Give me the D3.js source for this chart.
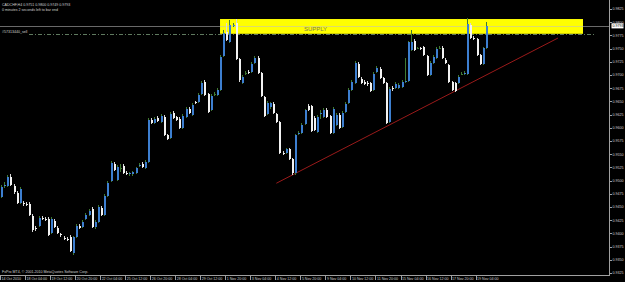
<!DOCTYPE html>
<html>
<head>
<meta charset="utf-8">
<title>CADCHF,H4</title>
<script src="https://cdnjs.cloudflare.com/ajax/libs/d3/7.8.5/d3.min.js"></script>
<style>
	body { margin: 0; background: #000; }
	svg { display: block; font-family: "Liberation Sans", Arial, sans-serif; }
</style>
</head>
<body>
<div id="chart"></div>
<script>
	var symbol = "CADCHF,H4";
	var timerText = "0 minutes 2 seconds left to bar end";
	var copyright = "FxPro MT4, \u00a9 2001-2010 MetaQuotes Software Corp.";

	//H4 bars, oldest first
	var opens = [
		.9469, .9490, .9490, .9507, .9490, .9476, .9458, .9457, .9456, .9456,
		.9433, .9410, .9414, .9429, .9427, .9427, .9401, .9423, .9410, .9398,
		.9392, .9390, .9393, .9363, .9393, .9414, .9412, .9427, .9435, .9446,
		.9412, .9422, .9448, .9435, .9471, .9499, .9531, .9501, .9524, .9528,
		.9514, .9513, .9512, .9514, .9528, .9531, .9524, .9535, .9615, .9609,
		.9619, .9611, .9620, .9586, .9581, .9628, .9620, .9617, .9600, .9620,
		.9636, .9624, .9649, .9649, .9664, .9687, .9664, .9634, .9664, .9662,
		.9672, .9736, .9781, .9762, .9794, .9798, .9730, .9685, .9704, .9706,
		.9706, .9723, .9732, .9704, .9658, .9626, .9639, .9645, .9626, .9611,
		.9552, .9552, .9560, .9541, .9514, .9588, .9590, .9607, .9641, .9641,
		.9619, .9592, .9626, .9620, .9634, .9622, .9590, .9605, .9624, .9601,
		.9630, .9647, .9672, .9685, .9721, .9692, .9687, .9685, .9685, .9672,
		.9706, .9711, .9694, .9685, .9611, .9675, .9675, .9675, .9677, .9687,
		.9689, .9747, .9764, .9751, .9751, .9753, .9736, .9700, .9723, .9732,
		.9751, .9751, .9728, .9719, .9687, .9685, .9685, .9702, .9702, .9702,
		.9795, .9770, .9768, .9738, .9721, .9751
	];
	var highs = [
		.9492, .9497, .9511, .9512, .9494, .9480, .9488, .9461, .9459, .9459,
		.9437, .9414, .9433, .9433, .9431, .9431, .9431, .9427, .9414, .9401,
		.9395, .9393, .9397, .9395, .9418, .9418, .9425, .9439, .9446, .9450,
		.9425, .9454, .9452, .9475, .9499, .9537, .9535, .9530, .9531, .9531,
		.9518, .9516, .9518, .9526, .9533, .9535, .9539, .9619, .9619, .9620,
		.9622, .9626, .9624, .9588, .9630, .9632, .9622, .9620, .9626, .9639,
		.9639, .9647, .9651, .9666, .9689, .9690, .9666, .9664, .9668, .9675,
		.9738, .9785, .9798, .9804, .9798, .9806, .9732, .9700, .9708, .9709,
		.9725, .9736, .9736, .9706, .9660, .9651, .9649, .9649, .9628, .9613,
		.9556, .9562, .9562, .9543, .9588, .9594, .9609, .9636, .9645, .9643,
		.9622, .9624, .9634, .9638, .9638, .9624, .9639, .9628, .9628, .9632,
		.9649, .9675, .9690, .9727, .9725, .9696, .9690, .9689, .9687, .9706,
		.9717, .9715, .9696, .9687, .9677, .9679, .9687, .9685, .9690, .9732,
		.9764, .9785, .9768, .9753, .9753, .9755, .9738, .9727, .9738, .9753,
		.9755, .9755, .9732, .9721, .9689, .9687, .9700, .9706, .9707, .9808,
		.9798, .9773, .9770, .9740, .9753, .9800
	];
	var lows = [
		.9467, .9486, .9488, .9490, .9475, .9456, .9456, .9452, .9452, .9433,
		.9403, .9405, .9412, .9425, .9423, .9395, .9399, .9410, .9399, .9393,
		.9387, .9385, .9365, .9359, .9391, .9408, .9410, .9425, .9433, .9410,
		.9408, .9420, .9433, .9433, .9469, .9497, .9518, .9499, .9516, .9512,
		.9510, .9509, .9509, .9512, .9526, .9524, .9522, .9533, .9607, .9607,
		.9611, .9609, .9584, .9577, .9579, .9617, .9613, .9598, .9598, .9619,
		.9626, .9622, .9645, .9647, .9662, .9660, .9628, .9632, .9660, .9660,
		.9670, .9734, .9764, .9760, .9791, .9728, .9687, .9683, .9700, .9702,
		.9704, .9721, .9702, .9658, .9620, .9624, .9636, .9626, .9609, .9550,
		.9548, .9550, .9539, .9511, .9511, .9586, .9588, .9605, .9632, .9592,
		.9594, .9590, .9617, .9619, .9619, .9588, .9588, .9603, .9598, .9600,
		.9628, .9645, .9670, .9683, .9694, .9683, .9681, .9679, .9668, .9670,
		.9704, .9692, .9683, .9607, .9609, .9670, .9673, .9673, .9675, .9685,
		.9687, .9745, .9745, .9749, .9747, .9736, .9698, .9698, .9721, .9730,
		.9749, .9730, .9721, .9685, .9670, .9668, .9683, .9700, .9700, .9700,
		.9768, .9766, .9736, .9719, .9719, .9749
	];
	var closes = [
		.9488, .9492, .9507, .9492, .9478, .9458, .9484, .9456, .9455, .9435,
		.9406, .9409, .9429, .9428, .9426, .9397, .9427, .9412, .9401, .9397,
		.9391, .9389, .9367, .9393, .9414, .9410, .9422, .9435, .9442, .9412,
		.9422, .9450, .9435, .9471, .9495, .9533, .9520, .9526, .9524, .9514,
		.9513, .9514, .9516, .9524, .9530, .9526, .9535, .9615, .9609, .9617,
		.9613, .9622, .9586, .9579, .9626, .9619, .9615, .9600, .9622, .9636,
		.9628, .9643, .9647, .9662, .9685, .9662, .9630, .9660, .9664, .9672,
		.9734, .9780, .9766, .9795, .9795, .9730, .9690, .9696, .9704, .9704,
		.9721, .9732, .9704, .9660, .9622, .9647, .9647, .9628, .9611, .9552,
		.9550, .9560, .9541, .9514, .9586, .9590, .9605, .9634, .9634, .9594,
		.9596, .9620, .9628, .9634, .9620, .9590, .9636, .9624, .9600, .9628,
		.9645, .9672, .9687, .9723, .9696, .9685, .9683, .9683, .9670, .9702,
		.9713, .9694, .9685, .9609, .9673, .9673, .9683, .9681, .9687, .9689,
		.9762, .9762, .9747, .9751, .9749, .9738, .9700, .9723, .9734, .9749,
		.9751, .9732, .9723, .9687, .9672, .9670, .9696, .9702, .9704, .9797,
		.9770, .9768, .9738, .9721, .9751, .9793
	];

	//one time label every 8 bars
	var timeLabels = ["14 Oct 2010", "18 Oct 04:00", "19 Oct 12:00", "20 Oct 20:00", "22 Oct 04:00",
		"25 Oct 12:00", "26 Oct 20:00", "28 Oct 04:00", "29 Oct 12:00", "1 Nov 20:00",
		"3 Nov 04:00", "4 Nov 12:00", "5 Nov 20:00", "9 Nov 04:00", "10 Nov 12:00",
		"11 Nov 20:00", "15 Nov 04:00", "16 Nov 12:00", "17 Nov 20:00", "19 Nov 04:00"];
	var labelEvery = 8;
	var priceTicks = [0.9325, 0.9350, 0.9375, 0.9400, 0.9425, 0.9450, 0.9475, 0.9500, 0.9525, 0.9550,
		0.9575, 0.9600, 0.9625, 0.9650, 0.9675, 0.9700, 0.9725, 0.9750, 0.9775, 0.9800, 0.9825];

	//objects drawn on the chart (bar index, price)
	var supplyFrom = 70, supplyTo = 186, supplyTop = 0.9806, supplyBottom = 0.9778;
	var trendStart = [88, 0.9495], trendEnd = [178, 0.9770];
	var orderPrice = 0.9778, orderLabel = "#57313440_sell";

	var w = 625, h = 282;
	var plotRight = 609, plotBottom = 275;
	var small = "3.6px";

	var svg = d3.select("#chart").append("svg")
		.attr("width", w)
		.attr("height", h);

	svg.append("rect").attr("width", w).attr("height", h).attr("fill", "#000");

	var x = d3.scaleLinear().domain([0, closes.length - 1]).range([1, 486]);
	var y = d3.scaleLinear().domain([0.9325, 0.9825]).range([273, 9]);

	var bars = d3.range(closes.length);
	var last = closes.length - 1;

	//supply rectangle sits behind the candles
	svg.append("rect")
		.attr("x", x(supplyFrom))
		.attr("y", y(supplyTop))
		.attr("width", x(supplyTo) - x(supplyFrom))
		.attr("height", y(supplyBottom) - y(supplyTop))
		.attr("fill", "#ffff00");

	svg.append("text")
		.attr("x", (x(supplyFrom) + x(supplyTo)) / 2 - 86)
		.attr("y", y(supplyBottom) - 2.5)
		.attr("text-anchor", "middle")
		.attr("font-size", "6px")
		.attr("fill", "#7a7a50")
		.text("SUPPLY");

	//bid line
	svg.append("line")
		.attr("x1", 0).attr("x2", plotRight)
		.attr("y1", Math.round(y(closes[last])) + 0.5)
		.attr("y2", Math.round(y(closes[last])) + 0.5)
		.attr("stroke", "#c0c0c0")
		.attr("stroke-opacity", 0.55)
		.attr("stroke-width", 1);

	//order line
	svg.append("line")
		.attr("x1", 29).attr("x2", plotRight - 14)
		.attr("y1", Math.round(y(orderPrice)) + 0.5)
		.attr("y2", Math.round(y(orderPrice)) + 0.5)
		.attr("stroke", "#5f7a5f")
		.attr("stroke-width", 1)
		.attr("stroke-dasharray", "4,2,1,2");

	svg.append("text")
		.attr("x", 2)
		.attr("y", y(orderPrice) - 0.5)
		.attr("font-size", small)
		.attr("fill", "#d0d0d0")
		.text(orderLabel);

	//trend line
	svg.append("line")
		.attr("x1", x(trendStart[0])).attr("y1", y(trendStart[1]))
		.attr("x2", x(trendEnd[0])).attr("y2", y(trendEnd[1]))
		.attr("stroke", "#9a1a1a")
		.attr("stroke-width", 1);

	//candles
	var candles = svg.append("g").attr("shape-rendering", "crispEdges");

	candles.selectAll("line.wick")
		.data(bars)
		.enter()
		.append("line")
		.attr("class", "wick")
		.attr("x1", function(i) { return Math.round(x(i)) + 0.5; })
		.attr("x2", function(i) { return Math.round(x(i)) + 0.5; })
		.attr("y1", function(i) { return y(highs[i]); })
		.attr("y2", function(i) { return y(lows[i]); })
		.attr("stroke", function(i) {
			return closes[i] >= opens[i] ? "#3f7a32" : "#d8d8d8";
		})
		.attr("stroke-width", 1);

	candles.selectAll("rect.body")
		.data(bars)
		.enter()
		.append("rect")
		.attr("class", "body")
		.attr("x", function(i) { return Math.round(x(i)) - 0.5; })
		.attr("width", 2)
		.attr("y", function(i) { return y(Math.max(opens[i], closes[i])); })
		.attr("height", function(i) {
			return Math.max(1, Math.abs(y(opens[i]) - y(closes[i])));
		})
		.attr("fill", function(i) {
			if (closes[i] == opens[i]) return "#3f7a32";
			return closes[i] > opens[i] ? "#3d7fd0" : "#f2f2f2";
		});

	//header texts
	svg.append("text")
		.attr("x", 2).attr("y", 5.5)
		.attr("font-size", small)
		.attr("fill", "#d0d0d0")
		.text(symbol + " " + [opens[last], highs[last], lows[last], closes[last]].map(d3.format(".4f")).join(" "));

	svg.append("text")
		.attr("x", 2).attr("y", 10.5)
		.attr("font-size", small)
		.attr("fill", "#d0d0d0")
		.text(timerText);

	svg.append("text")
		.attr("x", 2).attr("y", 273)
		.attr("font-size", small)
		.attr("fill", "#d0d0d0")
		.text(copyright);

	//price axis
	svg.append("line")
		.attr("x1", plotRight + 0.5).attr("x2", plotRight + 0.5)
		.attr("y1", 0).attr("y2", plotBottom + 0.5)
		.attr("stroke", "#a0a0a0");

	var yAxis = svg.append("g");
	yAxis.selectAll("line")
		.data(priceTicks)
		.enter()
		.append("line")
		.attr("x1", plotRight).attr("x2", plotRight + 3)
		.attr("y1", function(d) { return Math.round(y(d)) + 0.5; })
		.attr("y2", function(d) { return Math.round(y(d)) + 0.5; })
		.attr("stroke", "#a0a0a0");
	yAxis.selectAll("text")
		.data(priceTicks)
		.enter()
		.append("text")
		.attr("x", plotRight + 3.5)
		.attr("y", function(d) { return y(d) + 1.3; })
		.attr("font-size", small)
		.attr("fill", "#d0d0d0")
		.text(function(d) { return d3.format(".4f")(d); });

	//current price marker
	svg.append("rect")
		.attr("x", plotRight + 2.5)
		.attr("y", y(closes[last]) - 2.5)
		.attr("width", 12).attr("height", 5)
		.attr("fill", "#ffffff");
	svg.append("text")
		.attr("x", plotRight + 3.5)
		.attr("y", y(closes[last]) + 1.3)
		.attr("font-size", small)
		.attr("fill", "#000")
		.text(d3.format(".4f")(closes[last]));

	//time axis
	svg.append("line")
		.attr("x1", 0).attr("x2", plotRight + 1)
		.attr("y1", plotBottom + 0.5).attr("y2", plotBottom + 0.5)
		.attr("stroke", "#a0a0a0");

	var xAxis = svg.append("g");
	xAxis.selectAll("line")
		.data(timeLabels)
		.enter()
		.append("line")
		.attr("x1", function(d, i) { return Math.round(x(i * labelEvery)) - 0.5; })
		.attr("x2", function(d, i) { return Math.round(x(i * labelEvery)) - 0.5; })
		.attr("y1", plotBottom).attr("y2", plotBottom + 5)
		.attr("stroke", "#a0a0a0");
	xAxis.selectAll("text")
		.data(timeLabels)
		.enter()
		.append("text")
		.attr("x", function(d, i) { return x(i * labelEvery) + 0.5; })
		.attr("y", 280)
		.attr("font-size", small)
		.attr("fill", "#d0d0d0")
		.text(function(d) { return d; });
</script>
</body>
</html>
